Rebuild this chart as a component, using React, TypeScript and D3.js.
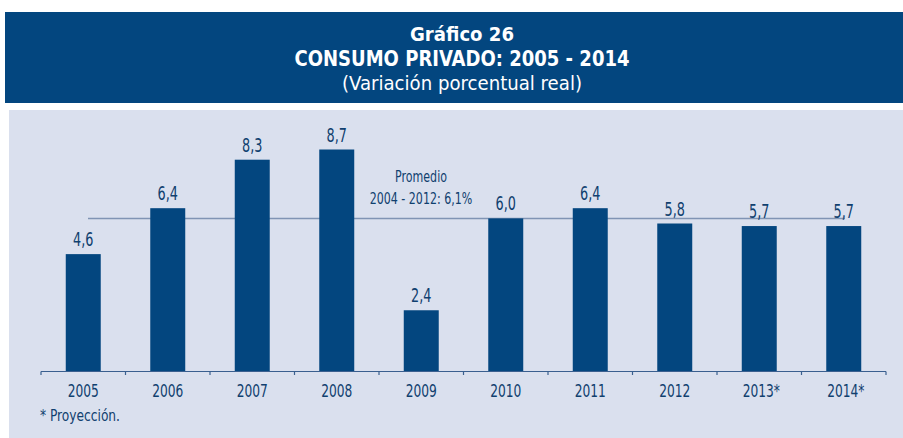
import React from "react";
import * as d3 from "d3";

const categories = ["2005", "2006", "2007", "2008", "2009", "2010", "2011", "2012", "2013*", "2014*"];
const values = [4.6, 6.4, 8.3, 8.7, 2.4, 6.0, 6.4, 5.8, 5.7, 5.7];
const valueLabels = ["4,6", "6,4", "8,3", "8,7", "2,4", "6,0", "6,4", "5,8", "5,7", "5,7"];
const averageValue = [6.0];
const averageLabel = ["Promedio", "2004 - 2012: 6,1%"];
const titleLines = ["Gráfico 26", "CONSUMO PRIVADO: 2005 - 2014", "(Variación porcentual real)"];
const footnote = ["* Proyección."];

const W = 903;
const H = 438;
const BLUE = "#03467f";
const PANEL = "#dae0ee";
const TXT = "#10406f";
const FONT = "'DejaVu Sans Condensed', 'Liberation Sans Narrow', sans-serif";

function T(props: { x: number; y: number; sx: number; size: number; anchor?: string; fill?: string; bold?: boolean; children: React.ReactNode }) {
  const { x, y, sx, size, anchor = "middle", fill = TXT, bold = false, children } = props;
  return (
    <text
      transform={`translate(${x},${y}) scale(${sx},1)`}
      textAnchor={anchor}
      fill={fill}
      fontFamily={FONT}
      fontWeight={bold ? "bold" : "normal"}
      fontSize={size}
    >
      {children}
    </text>
  );
}

export default function App() {
  const x0 = 41, x1 = 886, baseY = 371.5;
  const x = d3.scaleBand<string>().domain(categories).range([x0, x1]).paddingInner(0.586).paddingOuter(0.293);
  const y = d3.scaleLinear().domain([0, 8.7]).range([baseY, 149.5]);
  const bandStep = (x1 - x0) / categories.length;
  const ticks = d3.range(categories.length + 1).map((i) => x0 + i * bandStep);
  const avgY = y(averageValue[0]);

  return (
    <svg width={W} height={H} style={{ position: "absolute", left: 0, top: 0, display: "block" }}>
      <rect x={0} y={0} width={W} height={H} fill="#fff" />
      <rect x={5} y={12} width={W - 5} height={91} fill={BLUE} />
      <text x={462} y={41} textAnchor="middle" fill="#fff" fontFamily={FONT} fontWeight="bold" fontSize={19} textLength={104} lengthAdjust="spacingAndGlyphs">{titleLines[0]}</text>
      <text x={462} y={66} textAnchor="middle" fill="#fff" fontFamily={FONT} fontWeight="bold" fontSize={21} textLength={335} lengthAdjust="spacingAndGlyphs">{titleLines[1]}</text>
      <text x={462} y={90} textAnchor="middle" fill="#fff" fontFamily={FONT} fontSize={19} textLength={240} lengthAdjust="spacingAndGlyphs">{titleLines[2]}</text>

      <rect x={9} y={110} width={W - 9} height={H - 110} fill={PANEL} />

      <line x1={88} x2={845} y1={avgY} y2={avgY} stroke="#8094b4" strokeWidth={1.5} />
      <T x={421} y={182} sx={0.82} size={15}>{averageLabel[0]}</T>
      <T x={421} y={204} sx={0.82} size={15}>{averageLabel[1]}</T>

      {categories.map((c, i) => {
        const cx = (x(c) ?? 0) + x.bandwidth() / 2;
        return (
          <g key={c}>
            <rect x={x(c)} y={y(values[i])} width={x.bandwidth()} height={baseY - y(values[i])} fill={BLUE} />
            <T x={cx} y={y(values[i]) - 8} sx={0.75} size={19}>{valueLabels[i]}</T>
            <T x={cx + (c.includes("*") ? 2 : 0)} y={397} sx={0.8} size={17}>{c}</T>
          </g>
        );
      })}

      <line x1={x0} x2={x1} y1={baseY} y2={baseY} stroke="#3a5f8f" strokeWidth={1.2} />
      {ticks.map((t, i) => (
        <line key={i} x1={t} x2={t} y1={baseY} y2={baseY + 3.5} stroke="#3a5f8f" strokeWidth={1.2} />
      ))}

      <T x={40} y={421} sx={0.85} size={16} anchor="start">{footnote[0]}</T>
    </svg>
  );
}
